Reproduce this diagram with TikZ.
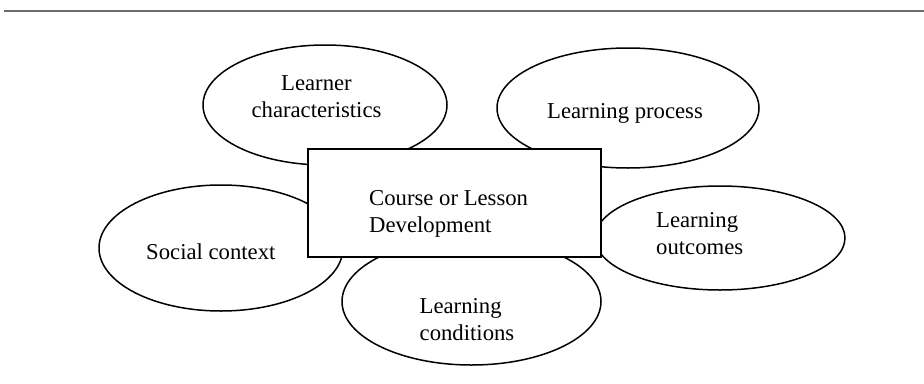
\documentclass[tikz,border=0pt]{standalone}
\usepackage{fontspec}
\setmainfont{Liberation Serif}
\usetikzlibrary{shapes.geometric}
\begin{document}
\begin{tikzpicture}[x=1pt,y=-1pt,
  blob/.style={draw=black,ellipse,line width=1.5pt,inner sep=0pt,fill=white},
  core/.style={draw=black,rectangle,line width=1.5pt,inner sep=0pt,fill=white},
  lbl/.style={inner sep=0pt,font=\fontsize{22.7}{27}\selectfont}]
\useasboundingbox (0,0) rectangle (924,383);
\coordinate (rl) at (4,11);
\coordinate (rr) at (924,11);
\draw[line width=2.5pt,color=black!58] (rl) -- (rr);
\node[blob,minimum width=244pt,minimum height=120pt] (lchar) at (325,105) {};
\node[blob,minimum width=262pt,minimum height=120pt] (lproc) at (628,108) {};
\node[blob,minimum width=244pt,minimum height=126pt] (soc) at (221,248) {};
\node[blob,minimum width=259pt,minimum height=127pt] (lcond) at (471.5,301.5) {};
\node[blob,minimum width=250pt,minimum height=104pt] (lout) at (720,238) {};
\node[core,minimum width=293pt,minimum height=108pt] (dev) at (454.5,203) {};
\node[lbl,align=center,anchor=base] (lchar-t) at (316.5,117) {Learner\\characteristics};
\node[lbl,anchor=base west] (lproc-t) at (547,118) {Learning process};
\node[lbl,anchor=base west] (soc-t) at (146,259.5) {Social context};
\node[lbl,align=left,anchor=base west] (lcond-t) at (419.5,340) {Learning\\conditions};
\node[lbl,align=left,anchor=base west] (lout-t) at (656,254) {Learning\\outcomes};
\node[lbl,align=left,anchor=base west] (dev-t) at (369,232) {Course or Lesson\\Development};
\end{tikzpicture}
\end{document}
